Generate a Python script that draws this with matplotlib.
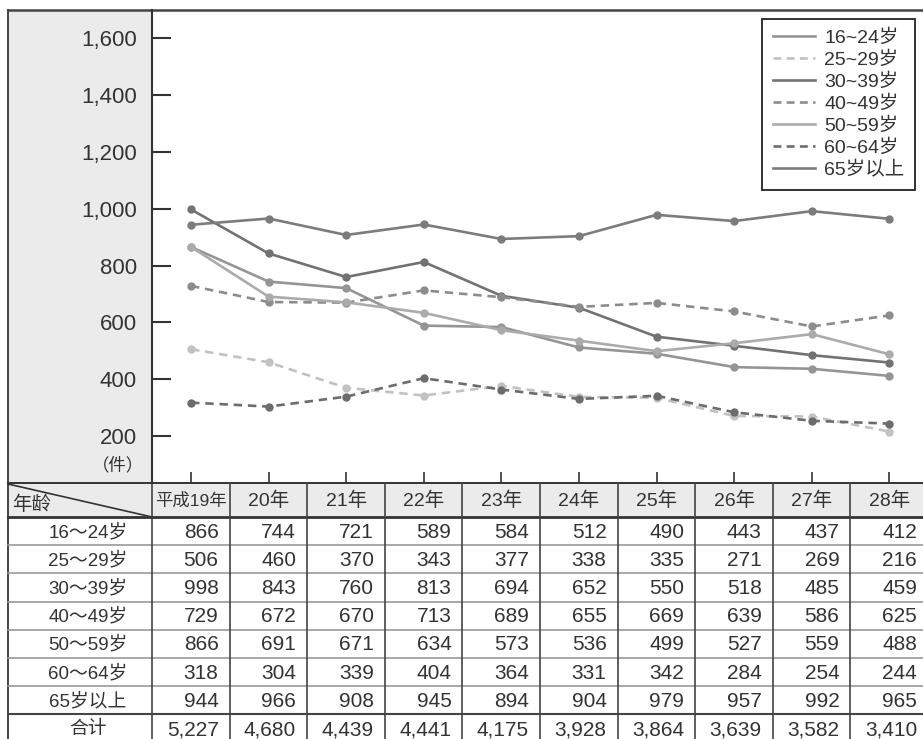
import matplotlib.pyplot as plt
from matplotlib.lines import Line2D

plt.rcParams['font.family'] = ['Liberation Sans', 'Noto Sans CJK SC']

# ---------------------------------------------------------
# data
# ---------------------------------------------------------
years = ['平成19年', '20年', '21年', '22年', '23年', '24年', '25年', '26年', '27年', '28年']
row_labels = ['16～24岁', '25～29岁', '30～39岁', '40～49岁', '50～59岁', '60～64岁', '65岁以上']
legend_labels = ['16~24岁', '25~29岁', '30~39岁', '40~49岁', '50~59岁', '60~64岁', '65岁以上']

age_16_24 = [866, 744, 721, 589, 584, 512, 490, 443, 437, 412]
age_25_29 = [506, 460, 370, 343, 377, 338, 335, 271, 269, 216]
age_30_39 = [998, 843, 760, 813, 694, 652, 550, 518, 485, 459]
age_40_49 = [729, 672, 670, 713, 689, 655, 669, 639, 586, 625]
age_50_59 = [866, 691, 671, 634, 573, 536, 499, 527, 559, 488]
age_60_64 = [318, 304, 339, 404, 364, 331, 342, 284, 254, 244]
age_65_up = [944, 966, 908, 945, 894, 904, 979, 957, 992, 965]
totals = [5227, 4680, 4439, 4441, 4175, 3928, 3864, 3639, 3582, 3410]

series = [age_16_24, age_25_29, age_30_39, age_40_49, age_50_59, age_60_64, age_65_up]
colors = ['#959595', '#c2c2c2', '#727272', '#8c8c8c', '#ababab', '#6c6c6c', '#7c7c7c']
styles = ['-', '--', '-', '--', '-', '--', '-']
yticks = [200, 400, 600, 800, 1000, 1200, 1400, 1600]

# ---------------------------------------------------------
# layout (pixels)
# ---------------------------------------------------------
W, H = 923, 739
left_x = 8        # outer left border
axis_x = 152      # y axis / first table column edge
top_y = 10
head_top = 483
head_bot = 517
row_h = 28.2
col_w = 77.6
first_x = 191     # centre of first year column
txt = '#333333'
grey_bg = '#ebebeb'

fig = plt.figure(figsize=(W / 100, H / 100), dpi=100)

# background layer in pixel coordinates: panels, borders, table
bg = fig.add_axes([0, 0, 1, 1], zorder=0)
bg.set_xlim(0, W)
bg.set_ylim(H, 0)
bg.axis('off')

bg.fill_between([left_x, axis_x], top_y, head_top, color=grey_bg, lw=0)
bg.fill_between([left_x, W], head_top, head_bot, color=grey_bg, lw=0)

# borders
bg.plot([left_x, W], [top_y, top_y], color='#444444', lw=1.8)
bg.plot([left_x, left_x], [top_y, H], color='#444444', lw=1.4)
bg.plot([left_x, W], [head_top, head_top], color='#333333', lw=1.4)
bg.plot([left_x, W], [head_bot, head_bot], color='#333333', lw=2.0)

n_rows = len(row_labels) + 1
for r in range(1, n_rows):
    y = head_bot + row_h * r
    if r == n_rows - 1:
        bg.plot([left_x, W], [y, y], color='#444444', lw=1.5)
    else:
        bg.plot([left_x, W], [y, y], color='#999999', lw=1.2)

for k in range(len(years) + 1):
    x = axis_x + col_w * k
    bg.plot([x, x], [head_top, H], color='#444444', lw=1.2)

# corner cell
bg.plot([left_x, axis_x], [head_top + 1, head_bot], color='#333333', lw=1.2)
bg.text(left_x + 4, head_bot - 3, '年龄', ha='left', va='bottom', fontsize=14, color=txt)

# header years
for i, yr in enumerate(years):
    fs = 12.5 if i == 0 else 14
    bg.text(first_x + col_w * i, (head_top + head_bot) / 2 + 1, yr,
            ha='center', va='center', fontsize=fs, color=txt)

# body rows
table_rows = series + [totals]
labels_all = row_labels + ['合计']
for r, (lab, vals) in enumerate(zip(labels_all, table_rows)):
    yc = head_bot + row_h * (r + 0.5) + 1
    bg.text(88, yc, lab, ha='center', va='center', fontsize=13.5, color=txt)
    for i, v in enumerate(vals):
        x_right = axis_x + col_w * (i + 1) - 11
        bg.text(x_right, yc, f'{v:,}', ha='right', va='center', fontsize=15, color=txt)

bg.text(118, 465, '（件）', ha='center', va='center', fontsize=12.5, color=txt)

# ---------------------------------------------------------
# line chart
# ---------------------------------------------------------
ax = fig.add_axes([axis_x / W, (H - head_top) / H, (W - axis_x) / W, (head_top - top_y) / H], zorder=2)
ax.patch.set_alpha(0)

x = list(range(len(years)))
for vals, c, ls in zip(series, colors, styles):
    line, = ax.plot(x, vals, color=c, lw=1.9, linestyle=ls, marker='o', markersize=5,
                    markerfacecolor=c, markeredgecolor=c)
    if ls == '--':
        line.set_dashes((3.2, 2.2))

ax.set_xlim(-(first_x - axis_x) / col_w, (W - first_x) / col_w)
ax.set_ylim(35, 1700)

for side in ['top', 'right', 'bottom']:
    ax.spines[side].set_visible(False)
ax.spines['left'].set_color('#333333')
ax.spines['left'].set_linewidth(1.5)

ax.set_yticks(yticks)
ax.set_yticklabels([f'{v:,}' for v in yticks])
ax.tick_params(axis='y', direction='in', length=14, width=1.5, pad=11,
               labelsize=16, colors='#333333')
ax.set_xticks(x)
ax.set_xticklabels([])
ax.tick_params(axis='x', direction='in', length=8, width=1.2, colors='#333333')

handles = []
for c, ls in zip(colors, styles):
    h = Line2D([], [], color=c, lw=1.9, linestyle=ls)
    if ls == '--':
        h.set_dashes((3.0, 2.0))
    handles.append(h)

leg = ax.legend(handles, legend_labels, loc='upper right',
                bbox_to_anchor=(915 / W, 1 - 19 / H), bbox_transform=fig.transFigure,
                borderaxespad=0, fontsize=14, handlelength=2.2, handletextpad=0.45,
                labelspacing=0.22, borderpad=0.55, fancybox=False, framealpha=1,
                edgecolor='#222222')
leg.get_frame().set_linewidth(1.3)
for t in leg.get_texts():
    t.set_color(txt)

fig.savefig('out.png', dpi=100)
